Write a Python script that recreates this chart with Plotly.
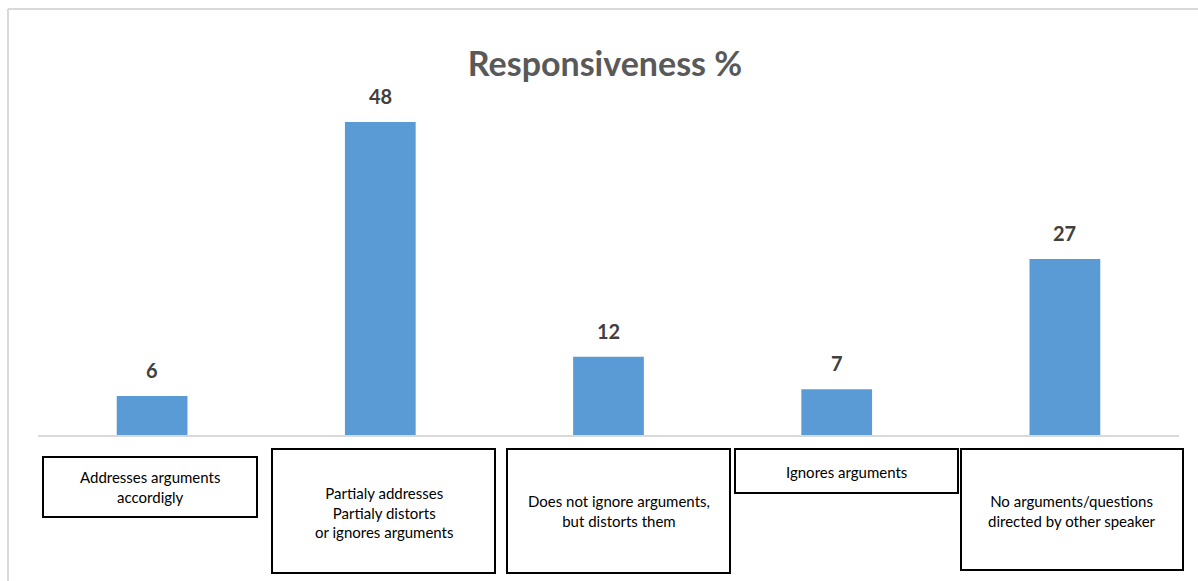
import plotly.graph_objects as go

# Response categories and their shares (%)
categories = [
    "Addresses arguments<br>accordigly",
    "Partialy addresses<br>Partialy distorts<br>or ignores arguments",
    "Does not ignore arguments,<br>but distorts them",
    "Ignores arguments",
    "No arguments/questions<br>directed by other speaker",
]
values = [6, 48, 12, 7, 27]

W, H = 1198, 581
L, R, T, B = 38, 19, 96, 146
PW, PH = W - L - R, H - T - B


def px_x(x):
    return (x - L) / PW


def px_y(y):
    return (H - B - y) / PH


fig = go.Figure(
    go.Bar(
        x=categories,
        y=values,
        marker=dict(color="#5B9BD5", line=dict(width=0)),
        hoverinfo="x+y",
    )
)

# value labels above each bar
for c, v in zip(categories, values):
    fig.add_annotation(
        x=c, y=v, text=f"<b>{v}</b>", showarrow=False,
        yanchor="bottom", yshift=12,
        font=dict(family="Lato, sans-serif", size=20, color="#404040"),
    )

# boxed category captions under the axis (left, right, top, bottom in px)
boxes = [
    (43, 257, 457, 517),
    (272, 495, 449, 573),
    (507, 730, 449, 573),
    (735, 958, 449, 493),
    (961, 1183, 449, 570),
]
text_mid = [487, 512, 511, 472, 511]
for c, (x0, x1, y0, y1), ym in zip(categories, boxes, text_mid):
    fig.add_shape(
        type="rect", xref="paper", yref="paper",
        x0=px_x(x0), x1=px_x(x1), y0=px_y(y0), y1=px_y(y1),
        line=dict(color="#000000", width=2), fillcolor="rgba(0,0,0,0)",
    )
    fig.add_annotation(
        xref="paper", yref="paper", x=px_x((x0 + x1) / 2), y=px_y(ym),
        text=c, showarrow=False, xanchor="center", yanchor="middle",
        align="center",
        font=dict(family="Lato, sans-serif", size=15, color="#000000"),
    )

# light chart-area frame
fig.add_shape(type="line", xref="paper", yref="paper",
              x0=px_x(8), x1=px_x(1198), y0=px_y(9), y1=px_y(9),
              line=dict(color="#d9d9d9", width=2))
fig.add_shape(type="line", xref="paper", yref="paper",
              x0=px_x(8), x1=px_x(8), y0=px_y(9), y1=px_y(581),
              line=dict(color="#d9d9d9", width=2))

fig.update_layout(
    width=W, height=H,
    margin=dict(l=L, r=R, t=T, b=B),
    paper_bgcolor="white", plot_bgcolor="white",
    bargap=0.69,
    showlegend=False,
    title=dict(
        text="<b>Responsiveness %</b>",
        x=605 / W, xanchor="center",
        y=1 - 64 / H, yanchor="middle", yref="container",
        font=dict(family="Lato, sans-serif", size=34, color="#595959"),
    ),
    xaxis=dict(
        showticklabels=False, showgrid=False, ticks="",
        showline=True, linecolor="#d9d9d9", linewidth=2,
    ),
    yaxis=dict(
        range=[0, PH / 6.52], visible=False, showgrid=False, zeroline=False,
    ),
)

fig.write_html("out.html")
